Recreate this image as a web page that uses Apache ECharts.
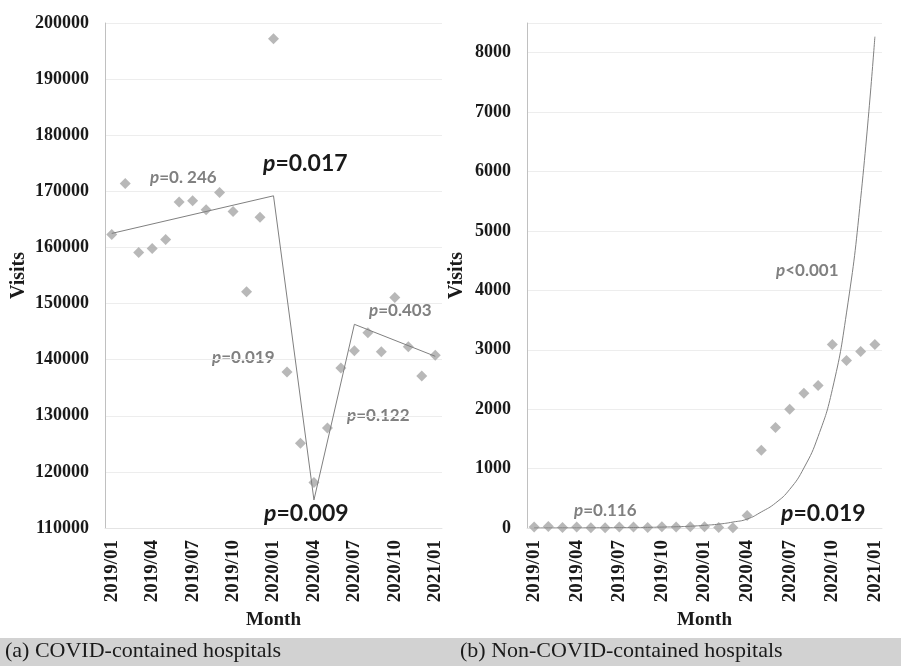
<!DOCTYPE html>
<html>
<head>
<meta charset="utf-8">
<script src="https://cdn.jsdelivr.net/npm/echarts@6/dist/echarts.min.js"></script>
<style>
	html,body{margin:0;padding:0;background:#fff;}
	#chart{width:901px;height:666px;}
</style>
</head>
<body>
<div id="chart"></div>
<script>
// months on both x axes
var months = ['2019/01','2019/02','2019/03','2019/04','2019/05','2019/06','2019/07','2019/08','2019/09','2019/10','2019/11','2019/12',
	'2020/01','2020/02','2020/03','2020/04','2020/05','2020/06','2020/07','2020/08','2020/09','2020/10','2020/11','2020/12','2021/01'];

// (a) COVID-contained hospitals
var covidVisits = [162300,171400,159100,159800,161400,168100,168300,166700,169800,166400,152100,165400,
	197200,137800,125100,118100,127800,138500,141600,144800,141400,151100,142300,137100,140800];
var covidTrendMonths = ['2019/01','2020/01','2020/04','2020/07','2021/01'];
var covidTrend = [162500,169200,115000,146300,140600];

// (b) Non-COVID-contained hospitals
var nonCovidVisits = [15,25,10,15,5,5,15,15,10,20,15,20,
	20,10,5,210,1310,1690,2000,2270,2400,3090,2820,2970,3090];
var nonCovidTrend = [1,1,2,2,3,4,6,8,11,15,21,30,
	45,65,100,150,270,420,650,1010,1540,2330,3620,5550,8270];

// p value notes: text, colour, size, left, centre y
var notes = [
	['=0. 246','#808080',17,150,180],
	['=0.017','#1a1a1a',23,263,167],
	['=0.019','#808080',17,212,360],
	['=0.009','#1a1a1a',23,264,517],
	['=0.122','#808080',17,347,418],
	['=0.403','#808080',17,369,313],
	['<0.001','#808080',17,776,273],
	['=0.116','#808080',17,574,513],
	['=0.019','#1a1a1a',23,781,517]
];

var captions = ['(a) COVID-contained hospitals','(b) Non-COVID-contained hospitals'];

var serif = '"Liberation Serif","Times New Roman",serif';
var sans = 'Lato,"Open Sans",sans-serif';

function xAxisOf(idx){
	return {
		type:'category',
		gridIndex:idx,
		data:months,
		boundaryGap:true,
		name:'Month',
		nameLocation:'middle',
		nameGap:81,
		nameTextStyle:{fontFamily:serif,fontWeight:'bold',fontSize:19,color:'#1a1a1a'},
		axisLine:{show:true,lineStyle:{color:'#e4e4e4'}},
		axisTick:{show:false},
		axisLabel:{interval:2,rotate:90,margin:12,fontFamily:serif,fontWeight:'bold',fontSize:19,color:'#1a1a1a'},
		splitLine:{show:false}
	};
}

function yAxisOf(idx,min,max,step,gap){
	return {
		type:'value',
		gridIndex:idx,
		min:min,
		max:max,
		interval:step,
		name:'Visits',
		nameLocation:'middle',
		nameGap:gap,
		nameTextStyle:{fontFamily:serif,fontWeight:'bold',fontSize:20,color:'#1a1a1a'},
		axisLine:{show:true,lineStyle:{color:'#c0c0c0'}},
		axisTick:{show:false},
		axisLabel:{margin:16,fontFamily:serif,fontWeight:'bold',fontSize:18,color:'#1a1a1a',
			formatter:function(v){
				return (v - min) % step == 0 ? v : '';
			}},
		splitLine:{show:true,lineStyle:{color:'#ededed'}}
	};
}

function buildNotes(){
	var list = [];
	$.each(notes, function(i, n){
		list.push({
			type:'text',
			left:n[3],
			top:n[4] - n[2]*0.65,
			style:{
				text:'{p|p}' + n[0],
				fill:n[1],
				font:'bold ' + n[2] + 'px ' + sans,
				rich:{p:{fontStyle:'italic',fontWeight:'bold',fontSize:n[2],fontFamily:sans,fill:n[1]}}
			}
		});
	});
	return list;
}

function showChart(){
	var myChart = echarts.init(document.getElementById('chart'));
	var covidTrendData = [];
	$.each(covidTrendMonths, function(i, m){
		covidTrendData.push([m, covidTrend[i]]);
	});
	var graphic = [
		{type:'rect',left:0,top:638,shape:{width:901,height:28},style:{fill:'#d2d2d2'}},
		{type:'text',left:5,top:640,style:{text:captions[0],font:'22px ' + serif,fill:'#1a1a1a'}},
		{type:'text',left:460,top:640,style:{text:captions[1],font:'22px ' + serif,fill:'#1a1a1a'}}
	].concat(buildNotes());

	var option = {
		animation:false,
		backgroundColor:'#fff',
		grid:[
			{left:105,right:459,top:23,bottom:138},
			{left:527,right:19,top:23,bottom:138}
		],
		xAxis:[xAxisOf(0),xAxisOf(1)],
		yAxis:[yAxisOf(0,110000,200000,10000,76),yAxisOf(1,0,8500,1000,60)],
		series:[
			{
				type:'scatter',xAxisIndex:0,yAxisIndex:0,
				symbol:'diamond',symbolSize:11,
				itemStyle:{color:'#a6a6a6'},
				data:covidVisits
			},
			{
				type:'line',xAxisIndex:0,yAxisIndex:0,
				showSymbol:false,
				lineStyle:{color:'#808080',width:1},
				data:covidTrendData
			},
			{
				type:'scatter',xAxisIndex:1,yAxisIndex:1,
				symbol:'diamond',symbolSize:11,
				itemStyle:{color:'#a6a6a6'},
				data:nonCovidVisits
			},
			{
				type:'line',xAxisIndex:1,yAxisIndex:1,
				showSymbol:false,smooth:true,
				lineStyle:{color:'#808080',width:1},
				data:nonCovidTrend
			}
		],
		graphic:graphic
	};
	myChart.setOption(option);
}

var $ = {
	each:function(arr, fn){
		for(var i=0;i<arr.length;i++){
			fn(i, arr[i]);
		}
	}
};

showChart();
</script>
</body>
</html>
